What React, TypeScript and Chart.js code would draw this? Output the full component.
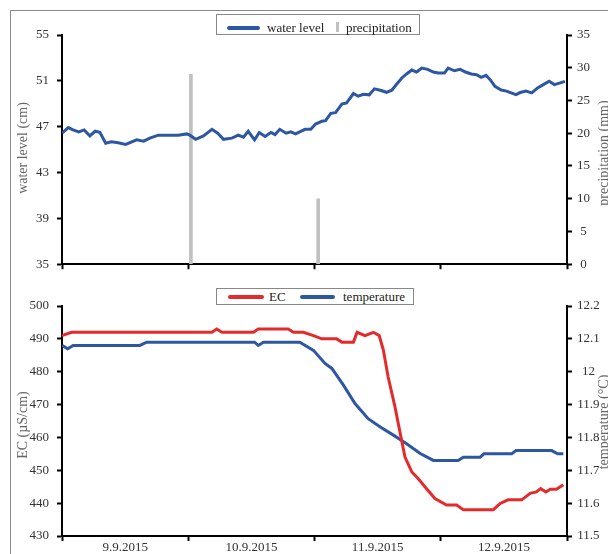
import React, { useEffect, useRef } from 'react';
import { Chart, registerables } from 'chart.js';

Chart.register(...registerables);

// ---------- data ----------
const dayLabels = ['9.9.2015', '10.9.2015', '11.9.2015', '12.9.2015'];

// hours since 9.9.2015 00:00
const wlHours = [0, 1.2, 2.1, 3.2, 4.2, 5.3, 6.3, 7.2, 8.3, 9.4, 10.7, 12.1, 14.2, 15.5, 16.7, 18.3, 22.1, 23.7, 24.3, 25.4, 26.9, 28.5, 29.6, 30.7, 32.3, 33.5, 34.5, 35.4, 36.6, 37.5, 38.6, 39.7, 40.5, 41.4, 42.6, 43.5, 44.4, 46.2, 47.3, 48.2, 49.4, 50.1, 51.1, 52.0, 53.2, 54.1, 55.4, 56.3, 57.3, 58.4, 59.4, 60.5, 61.7, 62.7, 63.6, 64.6, 65.5, 66.5, 67.4, 68.4, 69.5, 70.6, 71.5, 72.7, 73.4, 74.6, 75.7, 76.7, 77.8, 78.8, 79.7, 80.6, 81.4, 82.3, 83.5, 84.5, 86.3, 87.1, 88.2, 89.3, 90.4, 91.5, 92.6, 93.6, 94.7, 95.6];
const wlValues = [46.43, 46.92, 46.72, 46.55, 46.72, 46.2, 46.6, 46.5, 45.56, 45.68, 45.6, 45.45, 45.85, 45.74, 46.0, 46.26, 46.26, 46.37, 46.26, 45.9, 46.2, 46.77, 46.43, 45.9, 46.0, 46.26, 46.08, 46.6, 45.85, 46.49, 46.14, 46.49, 46.31, 46.77, 46.43, 46.55, 46.37, 46.77, 46.77, 47.23, 47.47, 47.53, 48.16, 48.22, 48.97, 49.08, 49.89, 49.66, 49.83, 49.78, 50.3, 50.18, 50.0, 50.18, 50.7, 51.25, 51.6, 51.94, 51.77, 52.12, 52.0, 51.77, 51.68, 51.68, 52.12, 51.88, 52.0, 51.77, 51.6, 51.54, 51.3, 51.48, 51.1, 50.52, 50.2, 50.1, 49.8, 49.98, 50.1, 49.95, 50.38, 50.67, 50.96, 50.67, 50.82, 50.96];

const precipHours = [24.5, 48.7];
const precipValues = [29, 10];

const ecHours = [0, 1.8, 28.5, 29.4, 30.4, 36.4, 37.3, 43.0, 44.0, 45.9, 47.8, 49.4, 52.2, 53.2, 55.4, 56.1, 57.6, 59.2, 60.3, 61.1, 62.0, 63.3, 64.3, 65.2, 66.5, 67.7, 69.3, 70.9, 73.1, 75.0, 76.3, 82.0, 83.3, 84.8, 87.4, 89.0, 90.2, 91.0, 92.0, 92.8, 94.0, 95.3];
const ecValues = [491, 492, 492, 493, 492, 492, 493, 493, 492, 492, 491, 490, 490, 489, 489, 492, 491, 492, 491, 486.5, 478.4, 469.3, 461.2, 454, 449.5, 447.5, 444.4, 441.4, 439.4, 439.4, 438, 438, 439.9, 441, 441, 443, 443.4, 444.4, 443.4, 444.2, 444.2, 445.6];

const tempHours = [0, 1.1, 2.1, 14.8, 16.1, 36.6, 37.3, 38.3, 45.2, 47.8, 50.0, 51.3, 53.5, 55.7, 58.2, 60.5, 63.0, 65.5, 68.1, 70.6, 75.3, 76.3, 79.5, 80.2, 85.5, 86.3, 93.1, 94.2, 95.3];
const tempValues = [12.08, 12.07, 12.08, 12.08, 12.09, 12.09, 12.08, 12.09, 12.09, 12.065, 12.025, 12.01, 11.959, 11.903, 11.857, 11.832, 11.807, 11.781, 11.751, 11.73, 11.73, 11.74, 11.74, 11.75, 11.75, 11.76, 11.76, 11.75, 11.75];

// ---------- styles ----------
const FONT = '"Liberation Serif", "Times New Roman", serif';
const BLUE = '#2d57a2';
const RED = '#e42b2b';
const GRAY_BAR = '#c0c0c0';
const TICK_TEXT = '#333333';
const TITLE_TEXT = '#666666';

const toXY = (xs: number[], ys: number[]) => xs.map((x, i) => ({ x, y: ys[i] }));

const fmtTemp = (v: number) => {
  const s = Number(v).toFixed(1);
  return s.endsWith('.0') ? s.slice(0, -2) : s;
};

function yAxis(position: 'left' | 'right', min: number, max: number, step: number, width: number, fmt?: (v: number) => string) {
  return {
    type: 'linear',
    position,
    min,
    max,
    grid: { drawOnChartArea: false, offset: false, tickLength: 5, tickColor: '#000', tickWidth: 2 },
    border: { color: '#000', width: 2 },
    ticks: {
      stepSize: step,
      color: TICK_TEXT,
      font: { family: FONT, size: 13 },
      padding: position === 'left' ? 8 : 5,
      crossAlign: position === 'left' ? 'near' : 'center',
      callback: (v: number) => (fmt ? fmt(v) : String(v)),
    },
    afterFit: (s: any) => { s.width = width; },
  };
}

export default function App() {
  const topRef = useRef<HTMLCanvasElement | null>(null);
  const botRef = useRef<HTMLCanvasElement | null>(null);

  useEffect(() => {
    const top = new Chart(topRef.current as HTMLCanvasElement, {
      type: 'line',
      data: {
        datasets: [
          {
            type: 'line',
            label: 'water level',
            data: toXY(wlHours, wlValues),
            borderColor: BLUE,
            borderWidth: 3,
            pointRadius: 0,
            tension: 0,
            yAxisID: 'y',
            xAxisID: 'x',
            order: 0,
          } as any,
          {
            type: 'bar',
            label: 'precipitation',
            data: toXY(precipHours, precipValues),
            backgroundColor: GRAY_BAR,
            barThickness: 3,
            yAxisID: 'y1',
            xAxisID: 'x',
            order: 1,
          } as any,
        ],
      },
      options: {
        animation: false,
        responsive: false,
        events: [],
        layout: { padding: { top: 27, left: 0, right: 0, bottom: 0 } },
        plugins: { legend: { display: false }, tooltip: { enabled: false } },
        scales: {
          x: {
            type: 'linear',
            min: 0,
            max: 96,
            offset: false,
            grid: { drawOnChartArea: false, offset: false, tickLength: 5, tickColor: '#000', tickWidth: 2 },
            border: { color: '#000', width: 2 },
            ticks: { stepSize: 24, autoSkip: false, maxRotation: 0, callback: () => '' },
            afterFit: (s: any) => { s.height = 14; },
          },
          y: yAxis('left', 35, 55, 4, 54),
          y1: yAxis('right', 0, 35, 5, 41),
        } as any,
      },
    });

    const bot = new Chart(botRef.current as HTMLCanvasElement, {
      type: 'line',
      data: {
        datasets: [
          {
            label: 'EC',
            data: toXY(ecHours, ecValues),
            borderColor: RED,
            borderWidth: 3,
            pointRadius: 0,
            tension: 0,
            yAxisID: 'y',
          },
          {
            label: 'temperature',
            data: toXY(tempHours, tempValues),
            borderColor: BLUE,
            borderWidth: 3,
            pointRadius: 0,
            tension: 0,
            yAxisID: 'y1',
          },
        ],
      },
      options: {
        animation: false,
        responsive: false,
        events: [],
        layout: { padding: { top: 26, left: 0, right: 0, bottom: 0 } },
        plugins: { legend: { display: false }, tooltip: { enabled: false } },
        scales: {
          x: {
            type: 'linear',
            min: 0,
            max: 96,
            grid: {
              drawOnChartArea: false,
              offset: false,
              tickLength: 5,
              tickWidth: 2,
              tickColor: (ctx: any) => (ctx.tick && ctx.tick.value % 24 === 0 ? '#000' : 'rgba(0,0,0,0)'),
            },
            border: { color: '#000', width: 2 },
            ticks: {
              stepSize: 12,
              autoSkip: false,
              maxRotation: 0,
              padding: 0,
              color: TICK_TEXT,
              font: { family: FONT, size: 13, lineHeight: 1 },
              callback: (v: number) => (v % 24 === 12 ? dayLabels[(v - 12) / 24] : ''),
            },
            afterFit: (s: any) => { s.height = 18; },
          },
          y: yAxis('left', 430, 500, 10, 54),
          y1: yAxis('right', 11.5, 12.2, 0.1, 41, fmtTemp),
        } as any,
      },
    });

    return () => {
      top.destroy();
      bot.destroy();
    };
  }, []);

  const abs = (s: React.CSSProperties): React.CSSProperties => ({ position: 'absolute', ...s });
  const legendText = (left: number, top: number, text: string) => (
    <span style={abs({ left, top, fontSize: 13, lineHeight: '16px', color: '#222', whiteSpace: 'nowrap' })}>{text}</span>
  );
  const title = (cx: number, cy: number, text: string) => (
    <div
      style={abs({
        left: cx,
        top: cy,
        transform: 'translate(-50%, -50%) rotate(-90deg)',
        fontSize: 14,
        lineHeight: '14px',
        color: TITLE_TEXT,
        whiteSpace: 'nowrap',
      })}
    >
      {text}
    </div>
  );

  return (
    <div style={{ position: 'fixed', left: 8, top: 8, width: 600, height: 546, overflow: 'hidden', fontFamily: FONT, background: '#fff' }}>
      <div style={abs({ left: 2, top: 2, right: -10, bottom: -10, borderLeft: '1px solid #888', borderTop: '1px solid #888' })} />
      <canvas ref={topRef} width={600} height={272} style={abs({ left: 0, top: 0, width: 600, height: 272 })} />
      <canvas ref={botRef} width={600} height={274} style={abs({ left: 0, top: 272, width: 600, height: 274 })} />

      {/* top legend */}
      <div style={abs({ left: 208, top: 6, width: 204, height: 21, boxSizing: 'border-box', border: '1px solid #888', background: '#fff' })} />
      <div style={abs({ left: 219, top: 18, width: 33, height: 4, borderRadius: 2, background: BLUE })} />
      {legendText(259, 12, 'water level')}
      <div style={abs({ left: 328, top: 14, width: 3, height: 10, background: GRAY_BAR })} />
      {legendText(338, 12, 'precipitation')}

      {/* bottom legend */}
      <div style={abs({ left: 208, top: 279.5, width: 198, height: 17, boxSizing: 'border-box', border: '1px solid #888', background: '#fff' })} />
      <div style={abs({ left: 220, top: 286.5, width: 36, height: 4, borderRadius: 2, background: RED })} />
      {legendText(261, 280.5, 'EC')}
      <div style={abs({ left: 292, top: 286.5, width: 35, height: 4, borderRadius: 2, background: BLUE })} />
      {legendText(335, 280.5, 'temperature')}

      {/* axis titles */}
      {title(15, 140, 'water level (cm)')}
      {title(596, 145, 'precipitation (mm)')}
      {title(15, 417, 'EC (µS/cm)')}
      {title(596, 414, 'temperature (°C)')}
    </div>
  );
}
